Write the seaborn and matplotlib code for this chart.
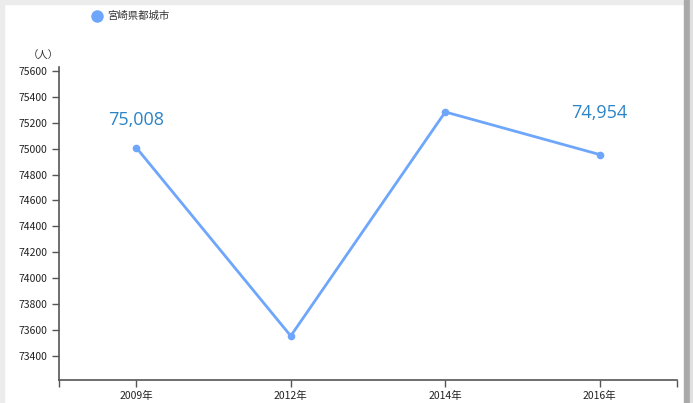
import matplotlib
matplotlib.use("Agg")
import matplotlib.pyplot as plt
import seaborn as sns
import pandas as pd
from matplotlib.patches import Rectangle
from matplotlib.lines import Line2D

years = ["2009年", "2012年", "2014年", "2016年"]
population = [75008, 73554, 75283, 74954]
series_name = "宮崎県都城市"
yticks = list(range(73400, 75601, 200))

sns.set_theme(style="white")
plt.rcParams['font.family'] = ['Noto Sans CJK JP', 'DejaVu Sans']

df = pd.DataFrame({"year": years, "pop": population})

fig = plt.figure(figsize=(6.93, 4.03), dpi=100)
fig.patch.set_facecolor("white")
# frame decorations
fig.add_artist(Rectangle((0, 0), 4/693, 1, transform=fig.transFigure, color="#ececec", zorder=0))
fig.add_artist(Rectangle((0, 1-4/403), 1, 4/403, transform=fig.transFigure, color="#ececec", zorder=0))
fig.add_artist(Rectangle((684/693, 0), 9/693, 1, transform=fig.transFigure, color="#a9a9a9", zorder=0))
fig.add_artist(Rectangle((690/693, 0), 3/693, 1, transform=fig.transFigure, color="#e0e0e0", zorder=0))

ax = fig.add_axes([59/693, 1-380/403, (677-59)/693, (380-67)/403])
ax.set_facecolor("none")
line_color = "#6ea6fb"
sns.lineplot(data=df, x="year", y="pop", ax=ax, color=line_color, linewidth=2,
             marker="o", markersize=5.5, markeredgewidth=0, sort=False)

ax.set_xlim(-0.5, 3.5)
ax.set_ylim(73214, 75630)
ax.set_yticks(yticks)
ax.set_yticklabels([str(v) for v in yticks])
ax.set_xlabel("")
ax.set_ylabel("")
for s in ["top", "right"]:
    ax.spines[s].set_visible(False)
for s in ["left", "bottom"]:
    ax.spines[s].set_color("#555555")
    ax.spines[s].set_linewidth(1.2)
ax.tick_params(axis="both", which="both", direction="out", length=5, width=1, colors="#555555",
               labelcolor="#222222", labelsize=7.5, left=True, bottom=True)
ax.tick_params(axis="x", pad=3)
ax.set_xticks([-0.5, 3.5], minor=True)
ax.tick_params(axis="x", which="minor", length=5)

label_color = "#2b84c6"
for i in [0, len(years)-1]:
    ax.annotate(f"{population[i]:,}", (i, population[i]), xytext=(0, 20 if i == 0 else 30),
                textcoords="offset points", ha="center", va="center", fontsize=13,
                color=label_color, family=['Open Sans', 'DejaVu Sans'])

fig.text(43/693, 1-56/403, "（人）", fontsize=7.5, ha="center", va="center", color="#333333")
fig.add_artist(Line2D([97/693], [1-16/403], transform=fig.transFigure, marker="o", markersize=9,
                      color=line_color, markeredgewidth=0, linestyle="none"))
fig.text(107/693, 1-16/403, series_name, fontsize=7.5, ha="left", va="center", color="#333333")

fig.savefig("out.png", dpi=100)
